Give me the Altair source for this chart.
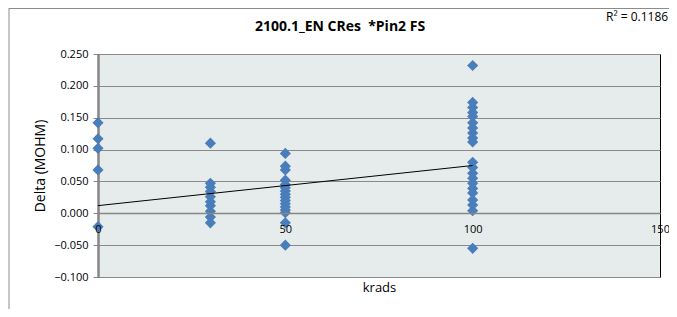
import altair as alt
import pandas as pd

# data
x0_vals = [0.142, 0.117, 0.102, 0.068, -0.021]
x30_vals = [0.110, 0.047, 0.041, 0.034, 0.026, 0.018, 0.012, 0.003, -0.006, -0.015]
x50_vals = [0.094, 0.074, 0.068, 0.052, 0.045, 0.040, 0.035, 0.030, 0.025, 0.020,
            0.015, 0.010, 0.005, 0.001, -0.015, -0.050]
x100_vals = [0.232, 0.174, 0.166, 0.158, 0.152, 0.142, 0.134, 0.126, 0.118, 0.112,
             0.080, 0.072, 0.063, 0.055, 0.047, 0.039, 0.032, 0.021, 0.013, 0.004, -0.055]
krads_levels = [0, 30, 50, 100]
trend_x = [0, 100]
trend_y = [0.012, 0.075]
y_ticks = [-0.1, -0.05, 0.0, 0.05, 0.1, 0.15, 0.2, 0.25]
x_ticks = [0, 50, 100, 150]
chart_title = "2100.1_EN CRes\u00a0 *Pin2 FS"
r2_text = "R² = 0.1186"

rows = []
for lvl, vals in zip(krads_levels, [x0_vals, x30_vals, x50_vals, x100_vals]):
    for v in vals:
        rows.append({"krads": lvl, "delta": v})
df = pd.DataFrame(rows)
trend_df = pd.DataFrame({"krads": trend_x, "delta": trend_y})
one = pd.DataFrame({"a": [0]})

FONT = "Open Sans"
W, H = 562, 223

xscale = alt.Scale(domain=[0, 150], nice=False, zero=False)
yscale = alt.Scale(domain=[-0.1, 0.25], nice=False, zero=False)

xaxis = alt.Axis(values=x_ticks, tickCount=len(x_ticks), grid=False, offset=-64, ticks=False,
                 labelPadding=10, labelOverlap=False, labelFlush=False, zindex=1,
                 domainColor="#868686", domainWidth=1.5, labelFontSize=11, labelColor="#000000",
                 labelFont=FONT, title="krads", titleFont=FONT, titleFontSize=13,
                 titleFontWeight="normal", titleY=68, titleBaseline="top", titleColor="#000000")
yaxis = alt.Axis(values=y_ticks, tickCount=len(y_ticks), format=".3f", grid=True,
                 gridColor="#8A8A8A", gridWidth=1, labelOverlap=False, labelFlush=False,
                 domainColor="#868686", domainWidth=2.5, tickColor="#868686", tickSize=5,
                 labelPadding=5, labelFontSize=11, labelFont=FONT, labelColor="#000000",
                 title="Delta (MOHM)", titleFont=FONT, titleFontSize=14, titleFontWeight="normal",
                 titleX=-58, titleY=H / 2, titleAngle=270, titleAlign="center",
                 titleBaseline="middle", titleColor="#000000")

points = alt.Chart(df).mark_point(shape="diamond", filled=True, size=125, opacity=1,
                                  color="#4A7EBB").encode(
    x=alt.X("krads:Q", scale=xscale, axis=xaxis),
    y=alt.Y("delta:Q", scale=yscale, axis=yaxis),
)

trend = alt.Chart(trend_df).mark_line(color="#000000", strokeWidth=1).encode(
    x=alt.X("krads:Q", scale=xscale),
    y=alt.Y("delta:Q", scale=yscale),
)

title = alt.Chart(one).mark_text(text=chart_title, font=FONT, fontSize=14, fontWeight="bold",
                                 align="center", baseline="middle", color="#000000").encode(
    x=alt.value(242), y=alt.value(-27))

r2 = alt.Chart(one).mark_text(text=r2_text, font=FONT, fontSize=12, align="left",
                              baseline="middle", color="#000000").encode(
    x=alt.value(508), y=alt.value(-37))

left_border = alt.Chart(one).mark_rule(color="#8C8C8C", strokeWidth=1).encode(
    x=alt.value(-89), y=alt.value(-46), y2=alt.value(H + 40))
top_border = alt.Chart(one).mark_rule(color="#8C8C8C", strokeWidth=1).encode(
    x=alt.value(-89), x2=alt.value(W + 20), y=alt.value(-45.5))

chart = alt.layer(points, trend, title, r2, left_border, top_border).properties(
    width=W, height=H,
    autosize=alt.AutoSizeParams(type="none"),
    padding={"left": 90, "top": 46, "right": 9, "bottom": 32},
).configure_view(fill="#E6ECEB", stroke="#000000", strokeWidth=1)

chart.save("out.html", embed_options={"renderer": "svg", "actions": False})
